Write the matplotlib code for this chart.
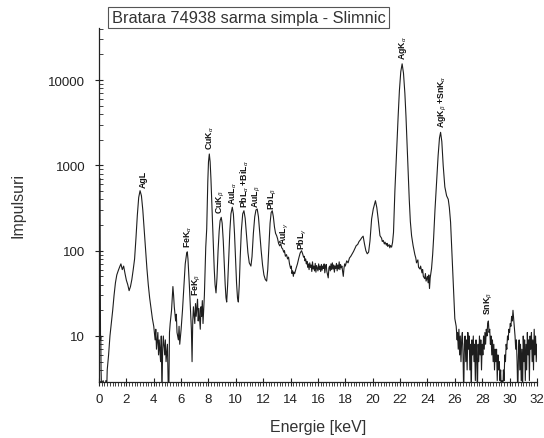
import matplotlib
matplotlib.use("Agg")
import matplotlib.pyplot as plt
from matplotlib.ticker import MultipleLocator, LogLocator, NullFormatter, FixedLocator

plt.rcParams["font.family"] = ["Liberation Sans", "DejaVu Sans"]
plt.rcParams["mathtext.fontset"] = "custom"
plt.rcParams["mathtext.rm"] = "Liberation Sans"
plt.rcParams["mathtext.it"] = "Liberation Sans:italic"
plt.rcParams["mathtext.bf"] = "Liberation Sans:bold"

# --- spectrum (energy in keV, counts) ---
energy_kev = [
    0.07, 0.11, 0.13, 0.15, 0.20, 0.30, 0.40, 0.50, 0.55, 0.60, 0.70, 0.80, 0.90,
    1.00, 1.10, 1.20, 1.30, 1.40, 1.50, 1.60, 1.70, 1.80, 1.90, 2.00, 2.10, 2.20,
    2.30, 2.40, 2.50, 2.60, 2.70, 2.80, 2.90, 3.00, 3.10, 3.20, 3.30, 3.40, 3.50,
    3.60, 3.70, 3.80, 3.90, 4.00, 4.10, 4.15, 4.20, 4.30, 4.35, 4.40, 4.50, 4.55,
    4.60, 4.65, 4.70, 4.80, 4.85, 4.90, 5.00, 5.05, 5.10, 5.15, 5.20, 5.30, 5.40,
    5.45, 5.50, 5.60, 5.65, 5.70, 5.80, 5.85, 5.90, 6.00, 6.10, 6.20, 6.30, 6.40,
    6.45, 6.50, 6.60, 6.70, 6.75, 6.80, 6.85, 6.90, 7.00, 7.05, 7.10, 7.20, 7.25,
    7.30, 7.40, 7.45, 7.50, 7.55, 7.60, 7.65, 7.70, 7.75, 7.80, 7.87, 7.95, 8.00,
    8.06, 8.12, 8.18, 8.25, 8.31, 8.37, 8.42, 8.48, 8.55, 8.62, 8.70, 8.78, 8.85,
    8.93, 9.00, 9.08, 9.15, 9.22, 9.28, 9.33, 9.40, 9.48, 9.56, 9.64, 9.74, 9.82,
    9.90, 9.98, 10.05, 10.12, 10.18, 10.25, 10.32, 10.40, 10.50, 10.59, 10.68,
    10.78, 10.88, 10.98, 11.10, 11.18, 11.28, 11.38, 11.47, 11.56, 11.65, 11.75,
    11.85, 11.95, 12.05, 12.15, 12.25, 12.33, 12.42, 12.50, 12.58, 12.66, 12.74,
    12.82, 12.90, 12.98, 13.05, 13.12, 13.20, 13.28, 13.35, 13.42, 13.50, 13.55,
    13.62, 13.70, 13.78, 13.85, 13.92, 14.00, 14.05, 14.10, 14.15, 14.20, 14.25,
    14.30, 14.40, 14.50, 14.60, 14.70, 14.80, 14.88, 14.95, 15.00, 15.05, 15.10,
    15.15, 15.20, 15.25, 15.30, 15.35, 15.40, 15.45, 15.50, 15.55, 15.60, 15.65,
    15.70, 15.75, 15.80, 15.85, 15.90, 15.95, 16.00, 16.05, 16.10, 16.15, 16.20,
    16.25, 16.30, 16.35, 16.40, 16.45, 16.50, 16.55, 16.60, 16.65, 16.70, 16.75,
    16.80, 16.85, 16.90, 16.95, 17.00, 17.05, 17.10, 17.15, 17.20, 17.25, 17.30,
    17.35, 17.40, 17.45, 17.50, 17.55, 17.60, 17.65, 17.70, 17.75, 17.80, 17.85,
    17.90, 17.95, 18.00, 18.10, 18.20,
    18.30, 18.40, 18.50, 18.60, 18.70, 18.80, 18.90, 19.00, 19.10, 19.20, 19.30,
    19.40, 19.50, 19.60, 19.70, 19.80, 19.92, 20.04, 20.20, 20.30, 20.40, 20.53,
    20.65, 20.70, 20.77, 20.85, 20.90, 21.00, 21.05, 21.10, 21.20, 21.25, 21.30,
    21.38, 21.45, 21.52, 21.62, 21.75, 21.86, 21.95, 22.05, 22.15, 22.25, 22.35,
    22.43, 22.55, 22.67, 22.75, 22.84, 22.95, 23.08, 23.15, 23.20, 23.30, 23.35,
    23.45, 23.50, 23.60, 23.65, 23.70, 23.80, 23.85, 23.90, 24.00, 24.05, 24.10,
    24.15, 24.20, 24.25, 24.30, 24.38, 24.45, 24.55, 24.67, 24.78, 24.88, 24.96,
    25.05, 25.15, 25.27, 25.40, 25.52, 25.60, 25.69, 25.78, 25.88, 25.95, 26.00,
    26.10, 26.17, 26.20, 26.25, 26.30, 26.35, 26.40, 26.45, 26.50, 26.55, 26.60,
    26.65, 26.70, 26.75, 26.80, 26.85, 26.90, 26.95, 27.00, 27.05, 27.10, 27.15,
    27.20, 27.25, 27.30, 27.35, 27.40, 27.45, 27.50, 27.55, 27.60, 27.65, 27.70,
    27.75, 27.80, 27.85, 27.90, 27.95, 28.00, 28.05, 28.10, 28.15, 28.20, 28.25,
    28.30, 28.35, 28.40, 28.45, 28.50, 28.55, 28.60, 28.65, 28.70, 28.75, 28.80,
    28.85, 28.90, 28.95, 29.00, 29.05, 29.10, 29.15, 29.20, 29.25, 29.30, 29.35,
    29.40, 29.45, 29.50, 29.55, 29.60, 29.65, 29.70, 29.75, 29.80, 29.85, 29.90,
    29.95, 30.00, 30.05, 30.10, 30.15, 30.20, 30.25, 30.30, 30.35, 30.40, 30.45,
    30.50, 30.55, 30.60, 30.65, 30.70, 30.75, 30.80, 30.85, 30.90, 30.95, 31.00,
    31.05, 31.10, 31.15, 31.20, 31.25, 31.30, 31.35, 31.40, 31.45, 31.50, 31.55,
    31.60, 31.65, 31.70, 31.75, 31.80, 31.85, 31.90, 31.95, 32.00,
]
counts = [
    700, 9, 10, 4, 2, 3, 2, 3, 2, 4, 6, 10, 14,
    20, 30, 42, 52, 58, 64, 70, 60, 66, 54, 45, 40, 34,
    38, 46, 60, 80, 140, 260, 420, 505, 440, 300, 180, 105, 62,
    40, 28, 21, 16, 13, 9, 12, 7, 11, 6, 9, 5, 10,
    2, 7, 10, 6, 9, 5, 8, 3, 2, 11, 14, 20, 38,
    30, 22, 15, 18, 11, 9, 13, 8, 12, 20, 38, 70, 92,
    97, 80, 40, 18, 12, 5, 15, 22, 14, 24, 17, 27, 15,
    21, 12, 22, 17, 26, 14, 20, 30, 60, 110, 180, 650, 1100,
    1360, 1100, 690, 330, 180, 100, 61, 40, 32, 48, 100, 170, 225,
    246, 210, 130, 70, 40, 28, 25, 40, 85, 170, 270, 323, 270,
    160, 80, 42, 28, 25, 40, 85, 170, 270, 294, 240,
    150, 95, 72, 66, 85, 160, 250, 300, 308, 250, 160,
    100, 68, 52, 46, 44, 60, 120, 210, 280, 294, 250,
    190, 160, 150, 138, 122, 114, 120, 108, 105, 96, 100,
    86, 90, 80, 84, 70, 62, 66, 54, 58, 50, 56,
    54, 62, 70, 82, 94, 100, 92, 84, 86, 76, 80,
    70, 75, 64, 70, 60, 72, 64, 68, 57, 74, 61,
    66, 58, 71, 56, 67, 62, 58, 70, 60, 66, 57,
    69, 59, 66, 62, 70, 55, 64, 69, 57, 52, 48,
    63, 66, 58, 70, 60, 72, 61, 68, 56, 66, 62,
    71, 58, 68, 61, 74, 60, 69, 63, 66, 57, 50,
    62, 70, 66, 76, 72,
    82, 86, 92, 98, 106, 115, 118, 128, 134, 142, 148,
    120, 100, 92, 96, 130, 235, 308, 385, 320, 235, 150,
    140, 128, 132, 120, 126, 116, 122, 112, 118, 108, 115,
    110, 125, 164, 500, 1500, 3800, 7500, 12500, 15500, 12000, 7000,
    3800, 1200, 400, 220, 150, 115, 90, 82, 72, 78, 64,
    61, 66, 55, 60, 50, 47, 54, 44, 50, 42, 52,
    36, 48, 55, 62, 90, 140, 300, 630, 1300, 2100, 2440,
    1900, 1000, 560, 440, 400, 320, 216, 100, 43, 22, 16,
    13, 9, 11, 7, 12, 6, 10, 5, 9, 11, 6,
    2, 8, 10, 5, 9, 4, 11, 7, 10, 4, 8,
    2, 9, 6, 10, 5, 8, 3, 9, 6, 2, 8,
    5, 10, 6, 9, 4, 8, 6, 10, 7, 11, 8,
    12, 10, 14, 15, 11, 12, 8, 10, 6, 9, 5,
    8, 4, 7, 5, 7, 3, 6, 4, 5, 3, 4,
    2, 3, 2, 4, 3, 6, 5, 8, 7, 10, 9,
    12, 11, 14, 13, 17, 15, 20, 16, 13, 10, 7,
    9, 5, 2, 6, 9, 4, 8, 3, 7, 2, 10,
    5, 9, 3, 8, 4, 11, 6, 9, 3, 10, 7,
    11, 5, 9, 4, 12, 6, 10, 5, 8,
]

# --- peak labels: text, energy, counts at the text's lower end ---
peak_labels = [r"AgL", r"FeK$_\alpha$", r"FeK$_\beta$", r"CuK$_\alpha$", r"CuK$_\beta$",
               r"AuL$_\alpha$", r"PbL$_\alpha$ +BiL$_\alpha$", r"AuL$_\beta$", r"PbL$_\beta$",
               r"AuL$_\gamma$", r"PbL$_\gamma$", r"AgK$_\alpha$",
               r"AgK$_\beta$ +SnK$_\alpha$", r"SnK$_\beta$"]
label_energy = [3.25, 6.50, 7.16, 8.10, 8.91, 9.79, 10.66, 11.54, 12.64,
                13.60, 14.83, 22.20, 25.13, 28.50]
label_counts = [560, 110, 30, 1550, 280, 355, 325, 325, 310, 120, 105, 17700, 2800, 18]

TITLE = "Bratara 74938 sarma simpla - Slimnic"

fig = plt.figure(figsize=(5.44, 4.39), dpi=100)
ax = fig.add_axes([0.182, 0.1276, 0.805, 0.8064])

ax.plot(energy_kev, counts, color="#1e1e1e", linewidth=0.8)

ax.set_yscale("log")
ax.set_xlim(0, 32)
ax.set_ylim(2.89, 40800)

ax.spines["top"].set_visible(False)
ax.spines["right"].set_visible(False)
for sp in ("left", "bottom"):
    ax.spines[sp].set_linewidth(0.9)
    ax.spines[sp].set_color("#222222")

ax.xaxis.set_major_locator(MultipleLocator(2))
ax.xaxis.set_minor_locator(MultipleLocator(0.2))
ax.yaxis.set_major_locator(FixedLocator([10, 100, 1000, 10000]))
ax.yaxis.set_major_formatter(plt.FuncFormatter(lambda v, p: f"{int(round(v))}"))
ax.yaxis.set_minor_locator(LogLocator(base=10, subs=range(2, 10)))
ax.yaxis.set_minor_formatter(NullFormatter())

ax.tick_params(axis="x", which="major", direction="inout", length=6, width=0.8,
               labelsize=9.5, colors="#222222", pad=5)
ax.tick_params(axis="x", which="minor", direction="out", length=3, width=0.6, colors="#222222")
ax.tick_params(axis="y", which="major", direction="inout", length=6, width=0.8,
               labelsize=9.5, colors="#222222", pad=7)
ax.tick_params(axis="y", which="minor", direction="in", length=3, width=0.6, colors="#222222")

ax.set_xlabel("Energie [keV]", fontsize=11.5, color="#333333", labelpad=10)
ax.set_ylabel("Impulsuri", fontsize=11.5, color="#333333", labelpad=16)

for txt, e, c in zip(peak_labels, label_energy, label_counts):
    ax.text(e, c, txt, rotation=90, fontsize=6.3, fontweight="bold",
            ha="center", va="bottom", color="#111111")

fig.text(0.457, 0.958, TITLE, fontsize=11.8, color="#333333", ha="center", va="center",
         bbox=dict(boxstyle="square,pad=0.2", facecolor="white", edgecolor="#555555", linewidth=0.8))

fig.savefig("out.png", dpi=100)
